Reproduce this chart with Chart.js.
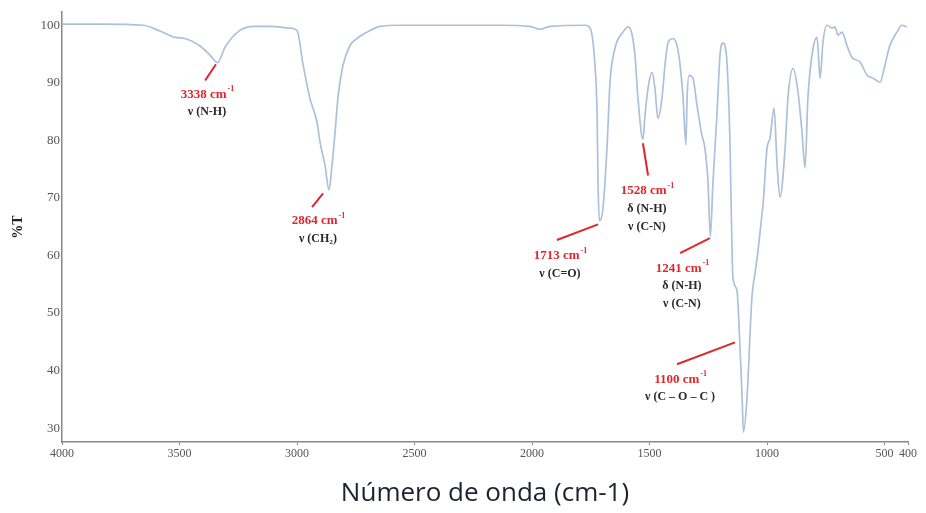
<!DOCTYPE html>
<html>
<head>
<meta charset="utf-8">
<script src="https://cdn.jsdelivr.net/npm/chart.js@4"></script>
<style>
  html, body { margin: 0; padding: 0; background: #fff; }
  #wrap { width: 926px; height: 513px; }
</style>
</head>
<body>
<div id="wrap"><canvas id="irChart" width="926" height="513"></canvas></div>
<script>
// FTIR spectrum (cm-1 vs %T)
const wavenumber = [
  4000, 3838, 3655, 3583, 3519, 3477, 3413, 3370, 3338, 3306, 3243, 3179, 3115, 3030, 3000,
  2974, 2945, 2915, 2902, 2881, 2864, 2851, 2838, 2826, 2804, 2774, 2745, 2702, 2647, 2562,
  2136, 2009, 1966, 1923, 1774, 1753, 1732, 1723, 1719, 1713, 1698, 1681, 1668, 1647, 1613,
  1591, 1574, 1562, 1549, 1528, 1519, 1506, 1489, 1477, 1464, 1447, 1434, 1421, 1400, 1383,
  1370, 1357, 1345, 1340, 1332, 1315, 1298, 1277, 1264, 1251, 1241, 1230, 1213, 1200, 1187,
  1174, 1166, 1157, 1153, 1145, 1128, 1115, 1106, 1100, 1085, 1064, 1051, 1038, 1021, 1017,
  1000, 987, 970, 957, 945, 923, 911, 889, 868, 851, 838, 826, 804, 787, 774,
  762, 745, 723, 711, 698, 681, 660, 638, 604, 574, 549, 519, 498, 477, 447,
  426, 404
];
const transmittance = [
  100.2, 100.2, 100.0, 99.0, 97.9, 97.7, 96.4, 94.8, 93.5, 96.2, 99.1, 99.8, 99.8, 99.5, 99.1,
  93.1, 87.3, 83.2, 79.7, 75.7, 71.4, 75.7, 81.4, 87.3, 93.1, 96.5, 97.7, 98.8, 99.8, 100.0,
  100.0, 99.8, 99.3, 99.8, 100.0, 99.5, 93.1, 84.4, 72.7, 66.0, 68.2, 78.6, 90.1, 96.0, 98.8,
  99.7, 98.3, 94.8, 87.3, 80.2, 84.4, 89.1, 91.8, 89.1, 83.8, 87.3, 93.1, 97.0, 97.7, 96.5,
  93.1, 87.3, 79.2, 87.3, 91.3, 90.8, 86.1, 80.9, 78.6, 72.7, 63.3, 72.7, 84.4, 94.8, 96.9,
  95.3, 90.1, 78.6, 69.6, 56.2, 54.0, 44.1, 35.4, 29.3, 35.4, 52.8, 56.9, 60.9, 67.3, 68.7,
  78.6, 80.4, 85.6, 75.7, 70.1, 78.6, 87.3, 92.5, 88.4, 81.4, 75.2, 87.3, 96.0, 97.9, 90.8,
  97.0, 100.0, 99.5, 99.7, 98.3, 98.8, 96.5, 94.4, 93.6, 91.3, 90.8, 90.1, 93.1, 96.5, 98.8,
  100.0, 99.7
];

const xTicks = [4000, 3500, 3000, 2500, 2000, 1500, 1000, 500, 400];
const yTicks = [30, 40, 50, 60, 70, 80, 90, 100];

// peak labels: band, assignment lines
const peakBands = ['3338', '2864', '1713', '1528', '1241', '1100'];
const peakAssign = [
  ['ν (N-H)'],
  ['ν (CH₂)'],
  ['ν (C=O)'],
  ['δ (N-H)', 'ν (C-N)'],
  ['δ (N-H)', 'ν (C-N)'],
  ['ν (C – O – C )']
];

// where each leader line and label sits, in data units
const peakPlacement = [
  { from: [3345, 93.2], to: [3391, 90.4], text: [3383, 88.0] },
  { from: [2889, 70.8], to: [2936, 68.4], text: [2911, 66.0] },
  { from: [1719, 65.4], to: [1894, 62.7], text: [1881, 59.9] },
  { from: [1528, 79.5], to: [1506, 73.9], text: [1511, 71.2] },
  { from: [1243, 63.0], to: [1370, 60.4], text: [1362, 57.8] },
  { from: [1136, 44.9], to: [1383, 41.1], text: [1370, 38.5] }
];

const points = wavenumber.map((w, i) => ({ x: w, y: transmittance[i] }));

const peakLabelPlugin = {
  id: 'peakLabels',
  afterDatasetsDraw(chart) {
    const { ctx, scales: { x, y } } = chart;
    ctx.save();
    peakPlacement.forEach((p, i) => {
      // leader line
      ctx.strokeStyle = '#e0262c';
      ctx.lineWidth = 2;
      ctx.beginPath();
      ctx.moveTo(x.getPixelForValue(p.from[0]), y.getPixelForValue(p.from[1]));
      ctx.lineTo(x.getPixelForValue(p.to[0]), y.getPixelForValue(p.to[1]));
      ctx.stroke();

      const tx = x.getPixelForValue(p.text[0]);
      let ty = y.getPixelForValue(p.text[1]);
      ctx.textBaseline = 'middle';

      // "#### cm" + superscript -1
      const main = peakBands[i] + ' cm';
      ctx.font = 'bold 13px "Liberation Serif", serif';
      const wMain = ctx.measureText(main).width;
      ctx.font = 'bold 8px "Liberation Serif", serif';
      const wSup = ctx.measureText('-1').width;
      const left = tx - (wMain + wSup) / 2;
      ctx.fillStyle = '#e0262c';
      ctx.textAlign = 'left';
      ctx.font = 'bold 13px "Liberation Serif", serif';
      ctx.fillText(main, left, ty);
      ctx.font = 'bold 8px "Liberation Serif", serif';
      ctx.fillText('-1', left + wMain + 1, ty - 5);

      ctx.fillStyle = '#2a2a2a';
      ctx.textAlign = 'center';
      ctx.font = 'bold 12px "Liberation Serif", serif';
      peakAssign[i].forEach(line => {
        ty += 18;
        ctx.fillText(line, tx, ty);
      });
    });
    ctx.restore();
  }
};

new Chart(document.getElementById('irChart'), {
  type: 'line',
  data: {
    datasets: [{
      data: points,
      borderColor: '#adc0d9',
      borderWidth: 1.7,
      pointRadius: 0,
      fill: false,
      cubicInterpolationMode: 'monotone'
    }]
  },
  options: {
    responsive: false,
    animation: false,
    layout: { padding: { top: 12, right: 18, left: 0, bottom: 0 } },
    plugins: { legend: { display: false }, tooltip: { enabled: false } },
    scales: {
      x: {
        type: 'linear',
        reverse: true,
        min: 400,
        max: 4000,
        afterBuildTicks: s => { s.ticks = xTicks.map(v => ({ value: v })); },
        afterFit: s => { s.height = 71; },
        ticks: {
          autoSkip: false,
          maxRotation: 0,
          padding: 2,
          color: '#555',
          font: { family: '"Liberation Serif", serif', size: 12 },
          callback: v => String(v)
        },
        grid: { drawOnChartArea: false, tickLength: 3, color: '#888' },
        border: { color: '#888', width: 1.5 },
        title: {
          display: true,
          text: 'Número de onda (cm-1)',
          color: '#1e2230',
          font: { family: '"Open Sans", sans-serif', size: 26 },
          padding: { top: 6 }
        }
      },
      y: {
        min: 27.6,
        max: 102.3,
        afterBuildTicks: s => { s.ticks = yTicks.map(v => ({ value: v })); },
        afterFit: s => { s.width = 62; },
        ticks: {
          padding: 2,
          color: '#555',
          font: { family: '"Liberation Serif", serif', size: 13 }
        },
        grid: { drawOnChartArea: false, tickLength: 0 },
        border: { color: '#888', width: 1.5 },
        title: {
          display: true,
          text: '%T',
          color: '#222',
          font: { family: '"Liberation Serif", serif', size: 14, weight: 'bold' },
          padding: { top: 10 }
        }
      }
    }
  },
  plugins: [peakLabelPlugin]
});
</script>
</body>
</html>
